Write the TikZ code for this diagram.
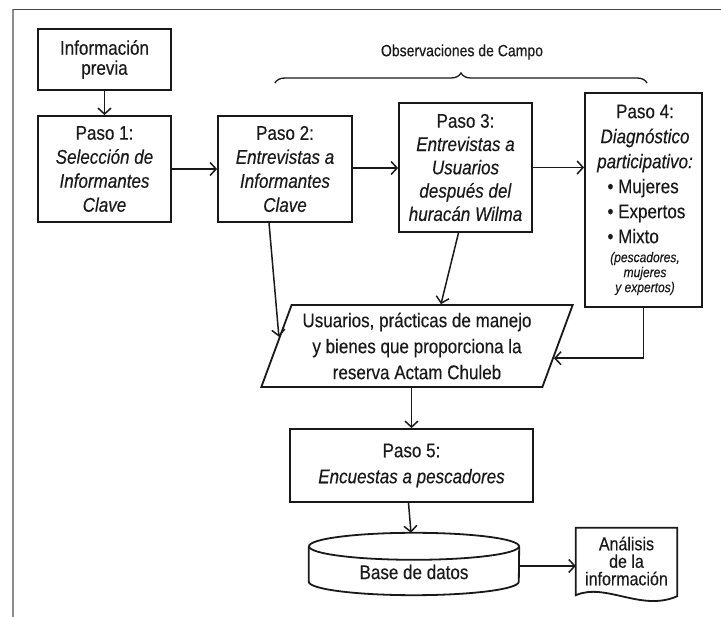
\documentclass[tikz,border=0pt]{standalone}
\usepackage{fontspec}
\setmainfont{Liberation Sans}[FakeStretch=0.86,FakeBold=0.3]
\usetikzlibrary{arrows.meta,shapes.geometric,calc,decorations.pathreplacing}
\definecolor{framegray}{RGB}{140,140,140}
\definecolor{topgray}{RGB}{70,70,70}
\definecolor{ink}{RGB}{25,25,25}
\begin{document}
\begin{tikzpicture}[x=1pt,y=-1pt,
  box/.style={draw=ink, line width=1.8pt, align=center, inner sep=0pt, text=ink},
  plain/.style={align=center, inner sep=0pt, text=ink},
  arr/.style={draw=ink, line width=1.5pt, -{Straight Barb[length=6pt,width=13pt,line width=1.5pt]}},
  para/.style={draw=ink, line width=1.8pt, align=center, inner sep=0pt, text=ink,
    trapezium, trapezium left angle=67.5, trapezium right angle=112.5,
    trapezium stretches=true, minimum width=312pt, minimum height=82pt},
  outline/.style={draw=ink, line width=1.8pt}
]
\useasboundingbox (0,0) rectangle (721,617);
% frame
\draw[framegray, line width=2pt] (13,9) -- (13,617);
\draw[topgray, line width=1pt] (13,9.5) -- (721,9.5);

% nodes
\node[box, minimum width=133pt, minimum height=61pt, font=\fontsize{19.8}{20}\selectfont]
  (info) at (104.5,59.5) {Información\\previa};
\node[box, minimum width=133pt, minimum height=106pt, font=\fontsize{19.8}{24}\selectfont]
  (p1) at (104.5,169) {Paso 1:\\\textit{Selección de}\\\textit{Informantes}\\\textit{Clave}};
\node[box, minimum width=134pt, minimum height=106pt, font=\fontsize{19.8}{24}\selectfont]
  (p2) at (285,169) {Paso 2:\\\textit{Entrevistas a}\\\textit{Informantes}\\\textit{Clave}};
\node[box, minimum width=133pt, minimum height=129pt, font=\fontsize{19.8}{23.3}\selectfont]
  (p3) at (465.5,167.5) {Paso 3:\\\textit{Entrevistas a}\\\textit{Usuarios}\\\textit{después del}\\\textit{huracán Wilma}};
\node[box, minimum width=117pt, minimum height=214pt] (p4) at (643.5,200) {};
\node[plain, font=\fontsize{19.8}{25}\selectfont] (p4main) at (645,174)
  {Paso 4:\\\textit{Diagnóstico}\\\textit{participativo:}\\\makebox[75pt][l]{• Mujeres}\\\makebox[75pt][l]{• Expertos}\\\makebox[75pt][l]{• Mixto}};
\node[plain, font=\fontsize{14}{15}\selectfont\itshape] (p4note) at (645,273.5)
  {(pescadores,\\mujeres\\y expertos)};
\node[para, font=\fontsize{19.8}{26}\selectfont]
  (para) at (417,346) {Usuarios, prácticas de manejo\\y bienes que proporciona la\\reserva Actam Chuleb};
\node[box, minimum width=243pt, minimum height=73pt, font=\fontsize{19.8}{26}\selectfont]
  (p5) at (411.5,465.5) {Paso 5:\\\textit{Encuestas a pescadores}};
\node[plain, minimum width=210pt, minimum height=62pt] (db) at (414,564) {};
\node[plain, font=\fontsize{19.8}{20}\selectfont] (dbtext) at (414,572) {Base de datos};
\node[plain, minimum width=101pt, minimum height=66pt, font=\fontsize{18.6}{17.5}\selectfont]
  (doc) at (626.5,561) {Análisis\\de la\\información};
\node[plain, font=\fontsize{16.3}{16}\selectfont] (obs) at (462,52) {Observaciones de Campo};

% cylinder outline
\draw[outline] ($(db.north)+(0,13.5)$) ellipse [x radius=105pt, y radius=13.5pt];
\draw[outline] ($(db.north west)+(0,13.5)$) -- ($(db.south west)+(0,-13.5)$)
  arc[start angle=180, end angle=360, x radius=105pt, y radius=13.5pt]
  -- ($(db.north east)+(0,13.5)$);
% document outline
\draw[outline] ($(doc.south west)+(0,1)$) -- (doc.north west) -- (doc.north east) -- ($(doc.south east)+(0,2)$)
  .. controls ($(doc.south east)+(-36,18)$) and ($(doc.south west)+(30,-12)$) .. ($(doc.south west)+(0,1)$) -- cycle;

% brace
\coordinate (bl) at (275,83);
\coordinate (br) at (647,83);
\draw[ink, line width=1.3pt, decorate, decoration={brace, amplitude=10pt}] (bl) -- (br);

% connectors
\draw[arr] (info) -- (p1);
\draw[arr] (p1) -- (p2);
\draw[arr] ([yshift=1pt]p2.east) -- ([yshift=1pt]p2.east -| p3.west);
\draw[arr] (p3.east) -- (p3.east -| p4.west);
\draw[arr] ([xshift=-16pt]p2.south) -- ($(para.top left corner)!0.39!(para.bottom left corner)$);
\draw[arr] ([xshift=-7pt]p3.south) -- ($(para.top left corner)!0.53!(para.top right corner)$);
\draw[arr] (p4.south) |- ($(para.top right corner)!0.646!(para.bottom right corner)$);
\draw[arr] (p5.north |- para.south) -- (p5.north);
\draw[arr] ([xshift=-3pt]p5.south) -- ([xshift=-3pt]db.north);
\draw[arr] ([yshift=-2pt]db.east) -- ([yshift=-2pt]db.east -| doc.west);
\end{tikzpicture}
\end{document}
